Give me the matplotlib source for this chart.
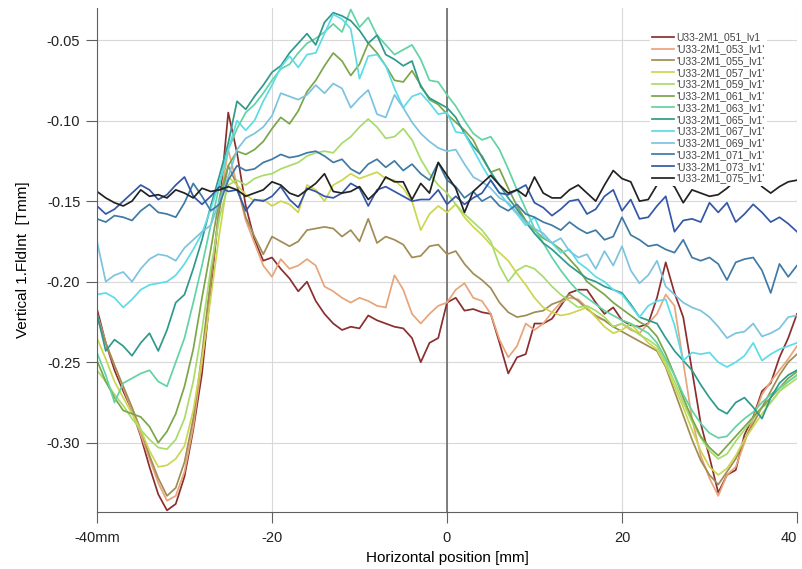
import matplotlib
matplotlib.use('Agg')
import matplotlib.pyplot as plt

plt.rcParams['font.family'] = ['Liberation Sans', 'DejaVu Sans']

# horizontal positions, 1 mm step
pos = list(range(-40, 41))

s051 = [-0.217, -0.238, -0.255, -0.268, -0.280, -0.296, -0.315, -0.332, -0.342, -0.338,
        -0.321, -0.292, -0.257, -0.205, -0.153, -0.095, -0.120, -0.153, -0.174, -0.187,
        -0.185, -0.192, -0.198, -0.206, -0.200, -0.212, -0.220, -0.226, -0.230, -0.228,
        -0.229, -0.221, -0.224, -0.226, -0.228, -0.229, -0.235, -0.250, -0.238, -0.235,
        -0.213, -0.210, -0.218, -0.217, -0.219, -0.220, -0.238, -0.257, -0.247, -0.245,
        -0.226, -0.226, -0.223, -0.215, -0.207, -0.205, -0.205, -0.213, -0.220, -0.216,
        -0.224, -0.227, -0.228, -0.226, -0.210, -0.188, -0.207, -0.222, -0.255, -0.288,
        -0.309, -0.331, -0.320, -0.317, -0.295, -0.284, -0.268, -0.263, -0.247, -0.235,
        -0.220]
s053 = [-0.220, -0.238, -0.252, -0.266, -0.280, -0.295, -0.310, -0.325, -0.336, -0.333,
        -0.318, -0.290, -0.250, -0.200, -0.152, -0.118, -0.140, -0.162, -0.176, -0.190,
        -0.197, -0.186, -0.192, -0.190, -0.186, -0.190, -0.203, -0.206, -0.210, -0.213,
        -0.210, -0.212, -0.215, -0.216, -0.196, -0.205, -0.220, -0.226, -0.220, -0.215,
        -0.213, -0.205, -0.201, -0.210, -0.212, -0.220, -0.236, -0.247, -0.240, -0.226,
        -0.230, -0.226, -0.219, -0.213, -0.210, -0.211, -0.216, -0.222, -0.224, -0.228,
        -0.226, -0.230, -0.232, -0.226, -0.220, -0.208, -0.215, -0.250, -0.285, -0.308,
        -0.322, -0.333, -0.320, -0.315, -0.300, -0.285, -0.270, -0.262, -0.255, -0.248,
        -0.240]
s055 = [-0.222, -0.238, -0.252, -0.265, -0.278, -0.292, -0.308, -0.322, -0.333, -0.328,
        -0.312, -0.285, -0.245, -0.198, -0.155, -0.128, -0.140, -0.160, -0.172, -0.183,
        -0.172, -0.175, -0.178, -0.175, -0.168, -0.167, -0.166, -0.167, -0.172, -0.168,
        -0.175, -0.161, -0.176, -0.172, -0.174, -0.177, -0.185, -0.184, -0.178, -0.177,
        -0.183, -0.181, -0.189, -0.195, -0.199, -0.204, -0.213, -0.219, -0.222, -0.221,
        -0.219, -0.218, -0.214, -0.212, -0.208, -0.212, -0.217, -0.221, -0.224, -0.228,
        -0.231, -0.234, -0.237, -0.240, -0.243, -0.253, -0.268, -0.283, -0.298, -0.311,
        -0.320, -0.326, -0.318, -0.310, -0.298, -0.288, -0.278, -0.268, -0.258, -0.250,
        -0.245]
s057 = [-0.235, -0.248, -0.262, -0.272, -0.282, -0.292, -0.305, -0.315, -0.314, -0.310,
        -0.302, -0.280, -0.248, -0.210, -0.170, -0.135, -0.140, -0.146, -0.150, -0.149,
        -0.153, -0.150, -0.152, -0.157, -0.140, -0.143, -0.150, -0.140, -0.137, -0.133,
        -0.136, -0.134, -0.132, -0.136, -0.137, -0.142, -0.150, -0.168, -0.158, -0.153,
        -0.157, -0.152, -0.160, -0.166, -0.171, -0.177, -0.182, -0.187, -0.195, -0.202,
        -0.210, -0.216, -0.219, -0.221, -0.220, -0.218, -0.216, -0.222, -0.228, -0.232,
        -0.230, -0.226, -0.232, -0.238, -0.242, -0.252, -0.265, -0.278, -0.292, -0.305,
        -0.315, -0.320, -0.316, -0.308, -0.298, -0.290, -0.282, -0.275, -0.268, -0.262,
        -0.258]
s059 = [-0.255, -0.262, -0.270, -0.277, -0.285, -0.292, -0.298, -0.303, -0.304, -0.298,
        -0.285, -0.262, -0.230, -0.192, -0.160, -0.140, -0.137, -0.140, -0.136, -0.134,
        -0.133, -0.130, -0.128, -0.126, -0.122, -0.120, -0.119, -0.120, -0.114, -0.110,
        -0.104, -0.099, -0.104, -0.111, -0.110, -0.105, -0.112, -0.124, -0.133, -0.140,
        -0.145, -0.152, -0.158, -0.163, -0.168, -0.175, -0.190, -0.200, -0.193, -0.190,
        -0.192, -0.197, -0.203, -0.208, -0.212, -0.216, -0.215, -0.218, -0.222, -0.228,
        -0.226, -0.229, -0.233, -0.236, -0.240, -0.250, -0.262, -0.275, -0.287, -0.297,
        -0.305, -0.310, -0.307, -0.299, -0.292, -0.285, -0.278, -0.275, -0.268, -0.264,
        -0.260]
s061 = [-0.249, -0.262, -0.272, -0.280, -0.282, -0.284, -0.290, -0.300, -0.293, -0.282,
        -0.265, -0.242, -0.210, -0.180, -0.148, -0.128, -0.119, -0.121, -0.118, -0.113,
        -0.105, -0.098, -0.102, -0.094, -0.082, -0.075, -0.066, -0.058, -0.063, -0.072,
        -0.065, -0.052, -0.058, -0.066, -0.075, -0.076, -0.069, -0.078, -0.087, -0.090,
        -0.096, -0.101, -0.106, -0.112, -0.123, -0.132, -0.130, -0.142, -0.153, -0.162,
        -0.168, -0.173, -0.176, -0.180, -0.186, -0.192, -0.200, -0.204, -0.208, -0.213,
        -0.217, -0.221, -0.225, -0.228, -0.234, -0.245, -0.258, -0.272, -0.285, -0.296,
        -0.303, -0.308, -0.302, -0.296, -0.290, -0.284, -0.278, -0.272, -0.266, -0.260,
        -0.256]
s063 = [-0.244, -0.258, -0.275, -0.263, -0.260, -0.257, -0.255, -0.262, -0.265, -0.250,
        -0.235, -0.213, -0.190, -0.165, -0.140, -0.118, -0.105, -0.095, -0.090, -0.083,
        -0.075, -0.068, -0.065, -0.058, -0.052, -0.049, -0.045, -0.040, -0.045, -0.031,
        -0.042, -0.036, -0.047, -0.053, -0.059, -0.056, -0.053, -0.062, -0.075, -0.076,
        -0.084, -0.091, -0.100, -0.108, -0.112, -0.110, -0.118, -0.130, -0.143, -0.155,
        -0.167, -0.176, -0.185, -0.193, -0.200, -0.206, -0.210, -0.214, -0.218, -0.221,
        -0.224, -0.226, -0.229, -0.232, -0.238, -0.248, -0.258, -0.270, -0.280, -0.288,
        -0.294, -0.297, -0.296, -0.290, -0.285, -0.281, -0.275, -0.270, -0.266, -0.262,
        -0.258]
s065 = [-0.220, -0.243, -0.236, -0.240, -0.246, -0.238, -0.232, -0.243, -0.230, -0.213,
        -0.208, -0.192, -0.174, -0.153, -0.134, -0.114, -0.088, -0.093, -0.085, -0.078,
        -0.070, -0.066, -0.058, -0.052, -0.046, -0.053, -0.039, -0.033, -0.035, -0.038,
        -0.044, -0.052, -0.047, -0.059, -0.062, -0.066, -0.063, -0.079, -0.086, -0.089,
        -0.092, -0.098, -0.108, -0.116, -0.122, -0.132, -0.140, -0.148, -0.155, -0.163,
        -0.170, -0.176, -0.180, -0.185, -0.190, -0.194, -0.198, -0.200, -0.203, -0.205,
        -0.207, -0.214, -0.222, -0.224, -0.226, -0.235, -0.243, -0.249, -0.255, -0.264,
        -0.272, -0.279, -0.282, -0.275, -0.272, -0.278, -0.285, -0.272, -0.263, -0.258,
        -0.255]
s067 = [-0.208, -0.207, -0.210, -0.216, -0.211, -0.205, -0.202, -0.201, -0.200, -0.196,
        -0.189, -0.180, -0.170, -0.155, -0.138, -0.118, -0.100, -0.106, -0.100, -0.088,
        -0.078, -0.067, -0.060, -0.067, -0.059, -0.058, -0.046, -0.034, -0.037, -0.043,
        -0.074, -0.060, -0.059, -0.066, -0.080, -0.092, -0.085, -0.083, -0.089, -0.096,
        -0.095, -0.107, -0.108, -0.118, -0.128, -0.137, -0.145, -0.152, -0.158, -0.165,
        -0.160, -0.172, -0.176, -0.182, -0.180, -0.188, -0.192, -0.197, -0.200, -0.205,
        -0.208, -0.215, -0.222, -0.215, -0.212, -0.211, -0.227, -0.249, -0.244, -0.245,
        -0.244, -0.250, -0.253, -0.250, -0.246, -0.238, -0.249, -0.245, -0.242, -0.240,
        -0.238]
s069 = [-0.175, -0.200, -0.196, -0.194, -0.200, -0.192, -0.186, -0.183, -0.184, -0.187,
        -0.179, -0.174, -0.169, -0.165, -0.150, -0.135, -0.118, -0.111, -0.108, -0.104,
        -0.097, -0.083, -0.085, -0.087, -0.084, -0.078, -0.083, -0.077, -0.080, -0.092,
        -0.086, -0.081, -0.096, -0.098, -0.084, -0.092, -0.101, -0.108, -0.113, -0.117,
        -0.119, -0.118, -0.127, -0.135, -0.138, -0.142, -0.148, -0.151, -0.157, -0.163,
        -0.167, -0.170, -0.176, -0.173, -0.181, -0.185, -0.183, -0.192, -0.181, -0.190,
        -0.178, -0.193, -0.201, -0.196, -0.187, -0.203, -0.208, -0.213, -0.216, -0.218,
        -0.222, -0.228, -0.235, -0.232, -0.231, -0.226, -0.234, -0.232, -0.229, -0.222,
        -0.221]
s071 = [-0.161, -0.163, -0.159, -0.160, -0.162, -0.156, -0.152, -0.157, -0.158, -0.160,
        -0.151, -0.139, -0.147, -0.156, -0.152, -0.137, -0.128, -0.131, -0.130, -0.126,
        -0.124, -0.121, -0.123, -0.122, -0.120, -0.119, -0.122, -0.126, -0.124, -0.130,
        -0.133, -0.127, -0.124, -0.129, -0.125, -0.131, -0.127, -0.133, -0.137, -0.126,
        -0.137, -0.141, -0.148, -0.144, -0.150, -0.147, -0.153, -0.156, -0.152, -0.158,
        -0.160, -0.163, -0.165, -0.168, -0.163, -0.167, -0.170, -0.168, -0.174, -0.172,
        -0.160, -0.171, -0.174, -0.178, -0.177, -0.180, -0.182, -0.174, -0.185, -0.187,
        -0.185, -0.189, -0.199, -0.188, -0.186, -0.185, -0.193, -0.207, -0.189, -0.197,
        -0.190]
s073 = [-0.153, -0.158, -0.155, -0.150, -0.145, -0.140, -0.143, -0.149, -0.146, -0.140,
        -0.135, -0.147, -0.152, -0.147, -0.141, -0.144, -0.143, -0.156, -0.149, -0.150,
        -0.147, -0.141, -0.149, -0.154, -0.142, -0.144, -0.147, -0.148, -0.145, -0.139,
        -0.142, -0.153, -0.143, -0.141, -0.144, -0.147, -0.150, -0.149, -0.149, -0.143,
        -0.152, -0.147, -0.152, -0.148, -0.145, -0.137, -0.145, -0.146, -0.143, -0.140,
        -0.151, -0.154, -0.159, -0.155, -0.150, -0.149, -0.158, -0.155, -0.147, -0.143,
        -0.156, -0.149, -0.161, -0.160, -0.153, -0.147, -0.169, -0.162, -0.161, -0.163,
        -0.151, -0.157, -0.151, -0.163, -0.158, -0.152, -0.157, -0.163, -0.160, -0.164,
        -0.169]
s075 = [-0.144, -0.148, -0.151, -0.153, -0.150, -0.143, -0.147, -0.146, -0.148, -0.143,
        -0.145, -0.148, -0.142, -0.144, -0.143, -0.141, -0.143, -0.147, -0.145, -0.143,
        -0.138, -0.140, -0.145, -0.147, -0.143, -0.139, -0.133, -0.144, -0.145, -0.144,
        -0.141, -0.149, -0.144, -0.135, -0.138, -0.138, -0.149, -0.139, -0.145, -0.126,
        -0.134, -0.142, -0.157, -0.144, -0.139, -0.134, -0.140, -0.145, -0.143, -0.147,
        -0.135, -0.145, -0.148, -0.148, -0.143, -0.140, -0.145, -0.150, -0.140, -0.131,
        -0.136, -0.138, -0.150, -0.149, -0.140, -0.137, -0.141, -0.151, -0.143, -0.145,
        -0.147, -0.146, -0.142, -0.137, -0.134, -0.133, -0.141, -0.145, -0.141, -0.138,
        -0.137]

series = [s051, s053, s055, s057, s059, s061, s063, s065, s067, s069, s071, s073, s075]
labels = ['U33-2M1_051_lv1', "'U33-2M1_053_lv1'", "'U33-2M1_055_lv1'", "'U33-2M1_057_lv1'",
          "'U33-2M1_059_lv1'", "'U33-2M1_061_lv1'", "'U33-2M1_063_lv1'", "'U33-2M1_065_lv1'",
          "'U33-2M1_067_lv1'", "'U33-2M1_069_lv1'", "'U33-2M1_071_lv1'", "'U33-2M1_073_lv1'",
          "'U33-2M1_075_lv1'"]
colors = ['#8b2e2e', '#e8a47a', '#a08c55', '#cdd64f', '#a8dc6a', '#7ba64a', '#62d3a4',
          '#2f9a8c', '#5ddce8', '#7cc3e0', '#3f7aa6', '#3557a8', '#222222']

xticks = [-40, -20, 0, 20, 40]
xticklabels = ['-40mm', '-20', '0', '20', '40']
yticks = [-0.30, -0.25, -0.20, -0.15, -0.10, -0.05]

fig = plt.figure(figsize=(8.03, 5.69), dpi=100)
ax = fig.add_axes([0.1208, 0.1002, 0.8717, 0.886])

for s, lab, c in zip(series, labels, colors):
    ax.plot(pos, s, color=c, lw=1.25, label=lab)

ax.set_xlim(-40, 40)
ax.set_ylim(-0.343, -0.030)
ax.set_xticks(xticks)
ax.set_xticklabels(xticklabels)
ax.get_xticklabels()[-1].set_ha('right')  # keep the last label inside the picture
ax.set_yticks(yticks)
ax.set_yticklabels(['%.2f' % v for v in yticks])
ax.grid(True, color='#d8d8d8', lw=0.8, zorder=0)
ax.set_axisbelow(True)
ax.axvline(0, color='#606060', lw=1.1, zorder=1.5)

for side in ['top', 'right']:
    ax.spines[side].set_visible(False)
for side in ['left', 'bottom']:
    ax.spines[side].set_color('#606060')
ax.tick_params(direction='out', length=8, color='#606060', labelsize=10.5,
               labelcolor='#222222')
ax.tick_params(axis='x', pad=6)
ax.tick_params(axis='y', pad=4)

ax.set_xlabel('Horizontal position [mm]', fontsize=11, labelpad=4)
ax.set_ylabel('Vertical 1.FldInt  [Tmm]', fontsize=11, labelpad=12)

leg = ax.legend(loc='upper left', bbox_to_anchor=(0.79, 0.955), fontsize=7.4,
                frameon=True, framealpha=1, edgecolor='none', facecolor='white',
                handlelength=2.1, handletextpad=0.25, labelspacing=0.17,
                borderpad=0.2, borderaxespad=0, fancybox=False)
for t in leg.get_texts():
    t.set_color('#444444')

fig.savefig('out.png', dpi=100)
